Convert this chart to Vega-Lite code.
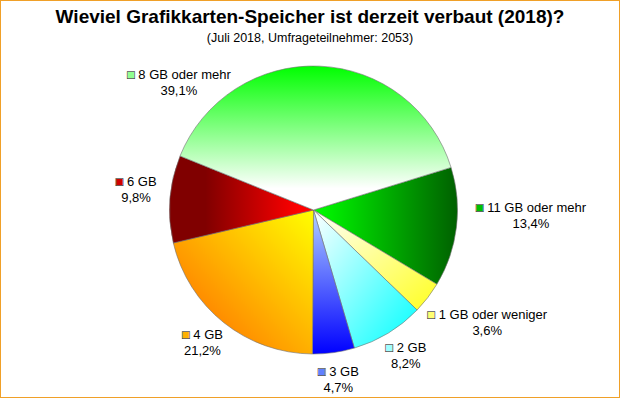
{
  "$schema": "https://vega.github.io/schema/vega-lite/v6.json",
  "width": 620,
  "height": 398,
  "autosize": {"type": "none"},
  "padding": 0,
  "background": "white",
  "config": {"view": {"stroke": "#f0a028", "strokeWidth": 2}, "style": {"cell": {"stroke": "#f0a028", "strokeWidth": 2}}, "font": "Liberation Sans"},
  "title": {
    "text": "Wieviel Grafikkarten-Speicher ist derzeit verbaut (2018)?",
    "subtitle": "(Juli 2018, Umfrageteilnehmer: 2053)",
    "font": "Liberation Sans",
    "fontSize": 19,
    "fontWeight": "bold",
    "color": "black",
    "subtitleFont": "Liberation Sans",
    "subtitleFontSize": 12.5,
    "subtitleColor": "black",
    "subtitlePadding": 5,
    "anchor": "middle",
    "frame": "group",
    "offset": -87
  },
  "data": {
    "values": [
      {"label": "11 GB oder mehr", "share": 13.4},
      {"label": "1 GB oder weniger", "share": 3.6},
      {"label": "2 GB", "share": 8.2},
      {"label": "3 GB", "share": 4.7},
      {"label": "4 GB", "share": 21.2},
      {"label": "6 GB", "share": 9.8},
      {"label": "8 GB oder mehr", "share": 39.1}
    ]
  },
  "transform": [
    {"window": [{"op": "row_number", "as": "idx"}]},
    {"calculate": "replace(format(datum.share, '.1f'), '.', ',') + '%'", "as": "pct"},
    {"calculate": "'□ ' + datum.label + '\u00a0\u00a0\u00a0\\n' + datum.pct", "as": "labB"},
    {"calculate": "'■ ' + datum.label + '\u00a0\u00a0\u00a0\\n\u00a0'", "as": "labC"}
  ],
  "layer": [
    {
      "mark": {"type": "rule", "opacity": 0},
      "encoding": {"y": {"datum": 0, "type": "quantitative", "axis": null}}
    },
    {
      "mark": {"type": "arc", "radius": 144, "stroke": "#707070", "strokeWidth": 0.6, "x": {"expr": "width/2+3.5"}, "y": {"expr": "height/2+11"}},
      "encoding": {
        "theta": {"field": "share", "type": "quantitative", "stack": true, "scale": {"range": [1.2706, 7.5538]}},
        "order": {"field": "idx", "type": "quantitative"},
        "detail": {"field": "label", "type": "nominal"},
        "fill": {
          "condition": [
            {"test": "datum.label === '8 GB oder mehr'", "value": {"gradient": "linear", "x1": 0, "y1": 0, "x2": 0, "y2": 1, "stops": [{"offset": 0, "color": "#00ff00"}, {"offset": 0.85, "color": "#ffffff"}, {"offset": 1, "color": "#ffffff"}]}},
            {"test": "datum.label === '11 GB oder mehr'", "value": {"gradient": "linear", "x1": 0, "y1": 0, "x2": 1, "y2": 0, "stops": [{"offset": 0, "color": "#00ff00"}, {"offset": 1, "color": "#006000"}]}},
            {"test": "datum.label === '1 GB oder weniger'", "value": {"gradient": "linear", "x1": 0, "y1": 0, "x2": 1, "y2": 1, "stops": [{"offset": 0, "color": "#ffffff"}, {"offset": 1, "color": "#ffff20"}]}},
            {"test": "datum.label === '2 GB'", "value": {"gradient": "linear", "x1": 0, "y1": 0, "x2": 1, "y2": 1, "stops": [{"offset": 0, "color": "#ffffff"}, {"offset": 1, "color": "#00ffff"}]}},
            {"test": "datum.label === '3 GB'", "value": {"gradient": "linear", "x1": 0, "y1": 0, "x2": 0, "y2": 1, "stops": [{"offset": 0, "color": "#b0d0ff"}, {"offset": 1, "color": "#0000ff"}]}},
            {"test": "datum.label === '4 GB'", "value": {"gradient": "linear", "x1": 1, "y1": 0, "x2": 0, "y2": 1, "stops": [{"offset": 0, "color": "#ffff00"}, {"offset": 1, "color": "#ff6000"}]}},
            {"test": "datum.label === '6 GB'", "value": {"gradient": "linear", "x1": 0, "y1": 0, "x2": 1, "y2": 0, "stops": [{"offset": 0, "color": "#800000"}, {"offset": 0.25, "color": "#800000"}, {"offset": 0.9, "color": "#ff0000"}]}}
          ],
          "value": "#cccccc"
        }
      }
    },
    {
      "mark": {"type": "text", "radius": 178, "dy": -14, "x": {"expr": "width/2+3.5"}, "y": {"expr": "height/2+11"}, "font": "Liberation Sans", "fontSize": 13, "lineBreak": "\n", "lineHeight": 16, "align": "center", "baseline": "middle"},
      "encoding": {
        "theta": {"field": "share", "type": "quantitative", "stack": true, "scale": {"range": [1.2706, 7.5538]}},
        "order": {"field": "idx", "type": "quantitative"},
        "detail": {"field": "label", "type": "nominal"},
        "text": {"condition": {"test": "indexof(['2 GB','3 GB','4 GB','6 GB'], datum.label) >= 0", "field": "labC"}, "value": ""},
        "color": {
          "condition": [
            {"test": "datum.label === '2 GB'", "value": {"gradient": "linear", "x1": 0, "y1": 0, "x2": 1, "y2": 0, "stops": [{"offset": 0, "color": "#a0ffff"}, {"offset": 0.185, "color": "#a0ffff"}, {"offset": 0.185, "color": "rgba(255,255,255,0)"}, {"offset": 1, "color": "rgba(255,255,255,0)"}]}},
            {"test": "datum.label === '3 GB'", "value": {"gradient": "linear", "x1": 0, "y1": 0, "x2": 1, "y2": 0, "stops": [{"offset": 0, "color": "#6080ff"}, {"offset": 0.185, "color": "#6080ff"}, {"offset": 0.185, "color": "rgba(255,255,255,0)"}, {"offset": 1, "color": "rgba(255,255,255,0)"}]}},
            {"test": "datum.label === '4 GB'", "value": {"gradient": "linear", "x1": 0, "y1": 0, "x2": 1, "y2": 0, "stops": [{"offset": 0, "color": "#ffb000"}, {"offset": 0.185, "color": "#ffb000"}, {"offset": 0.185, "color": "rgba(255,255,255,0)"}, {"offset": 1, "color": "rgba(255,255,255,0)"}]}},
            {"test": "datum.label === '6 GB'", "value": {"gradient": "linear", "x1": 0, "y1": 0, "x2": 1, "y2": 0, "stops": [{"offset": 0, "color": "#d00000"}, {"offset": 0.185, "color": "#d00000"}, {"offset": 0.185, "color": "rgba(255,255,255,0)"}, {"offset": 1, "color": "rgba(255,255,255,0)"}]}}
          ],
          "value": "rgba(255,255,255,0)"
        }
      }
    },
    {
      "mark": {"type": "text", "radius": 178, "dy": -14, "x": {"expr": "width/2+3.5"}, "y": {"expr": "height/2+11"}, "font": "Liberation Sans", "fontSize": 13, "lineBreak": "\n", "lineHeight": 16, "align": "center", "baseline": "middle", "color": "black"},
      "encoding": {
        "theta": {"field": "share", "type": "quantitative", "stack": true, "scale": {"range": [1.2706, 7.5538]}},
        "order": {"field": "idx", "type": "quantitative"},
        "detail": {"field": "label", "type": "nominal"},
        "text": {"condition": {"test": "indexof(['2 GB','3 GB','4 GB','6 GB'], datum.label) >= 0", "field": "labB"}, "value": ""}
      }
    },
    {
      "mark": {"type": "text", "radius": 219, "dy": -28, "x": {"expr": "width/2+3.5"}, "y": {"expr": "height/2+11"}, "font": "Liberation Sans", "fontSize": 13, "lineBreak": "\n", "lineHeight": 16, "align": "center", "baseline": "middle"},
      "encoding": {
        "theta": {"field": "share", "type": "quantitative", "stack": true, "scale": {"range": [1.2706, 7.5538]}},
        "order": {"field": "idx", "type": "quantitative"},
        "detail": {"field": "label", "type": "nominal"},
        "text": {"condition": {"test": "indexof(['11 GB oder mehr','1 GB oder weniger'], datum.label) >= 0", "field": "labC"}, "value": ""},
        "color": {
          "condition": [
            {"test": "datum.label === '11 GB oder mehr'", "value": {"gradient": "linear", "x1": 0, "y1": 0, "x2": 1, "y2": 0, "stops": [{"offset": 0, "color": "#00c000"}, {"offset": 0.079, "color": "#00c000"}, {"offset": 0.079, "color": "rgba(255,255,255,0)"}, {"offset": 1, "color": "rgba(255,255,255,0)"}]}},
            {"test": "datum.label === '1 GB oder weniger'", "value": {"gradient": "linear", "x1": 0, "y1": 0, "x2": 1, "y2": 0, "stops": [{"offset": 0, "color": "#ffff70"}, {"offset": 0.074, "color": "#ffff70"}, {"offset": 0.074, "color": "rgba(255,255,255,0)"}, {"offset": 1, "color": "rgba(255,255,255,0)"}]}}
          ],
          "value": "rgba(255,255,255,0)"
        }
      }
    },
    {
      "mark": {"type": "text", "radius": 219, "dy": -28, "x": {"expr": "width/2+3.5"}, "y": {"expr": "height/2+11"}, "font": "Liberation Sans", "fontSize": 13, "lineBreak": "\n", "lineHeight": 16, "align": "center", "baseline": "middle", "color": "black"},
      "encoding": {
        "theta": {"field": "share", "type": "quantitative", "stack": true, "scale": {"range": [1.2706, 7.5538]}},
        "order": {"field": "idx", "type": "quantitative"},
        "detail": {"field": "label", "type": "nominal"},
        "text": {"condition": {"test": "indexof(['11 GB oder mehr','1 GB oder weniger'], datum.label) >= 0", "field": "labB"}, "value": ""}
      }
    },
    {
      "mark": {"type": "text", "radius": 174, "dx": -142, "dy": 39, "x": {"expr": "width/2+3.5"}, "y": {"expr": "height/2+11"}, "font": "Liberation Sans", "fontSize": 13, "lineBreak": "\n", "lineHeight": 16, "align": "center", "baseline": "middle"},
      "encoding": {
        "theta": {"field": "share", "type": "quantitative", "stack": true, "scale": {"range": [1.2706, 7.5538]}},
        "order": {"field": "idx", "type": "quantitative"},
        "detail": {"field": "label", "type": "nominal"},
        "text": {"condition": {"test": "datum.label === '8 GB oder mehr'", "field": "labC"}, "value": ""},
        "color": {
          "condition": [
            {"test": "datum.label === '8 GB oder mehr'", "value": {"gradient": "linear", "x1": 0, "y1": 0, "x2": 1, "y2": 0, "stops": [{"offset": 0, "color": "#90ff90"}, {"offset": 0.084, "color": "#90ff90"}, {"offset": 0.084, "color": "rgba(255,255,255,0)"}, {"offset": 1, "color": "rgba(255,255,255,0)"}]}}
          ],
          "value": "rgba(255,255,255,0)"
        }
      }
    },
    {
      "mark": {"type": "text", "radius": 174, "dx": -142, "dy": 39, "x": {"expr": "width/2+3.5"}, "y": {"expr": "height/2+11"}, "font": "Liberation Sans", "fontSize": 13, "lineBreak": "\n", "lineHeight": 16, "align": "center", "baseline": "middle", "color": "black"},
      "encoding": {
        "theta": {"field": "share", "type": "quantitative", "stack": true, "scale": {"range": [1.2706, 7.5538]}},
        "order": {"field": "idx", "type": "quantitative"},
        "detail": {"field": "label", "type": "nominal"},
        "text": {"condition": {"test": "datum.label === '8 GB oder mehr'", "field": "labB"}, "value": ""}
      }
    }
  ]
}
